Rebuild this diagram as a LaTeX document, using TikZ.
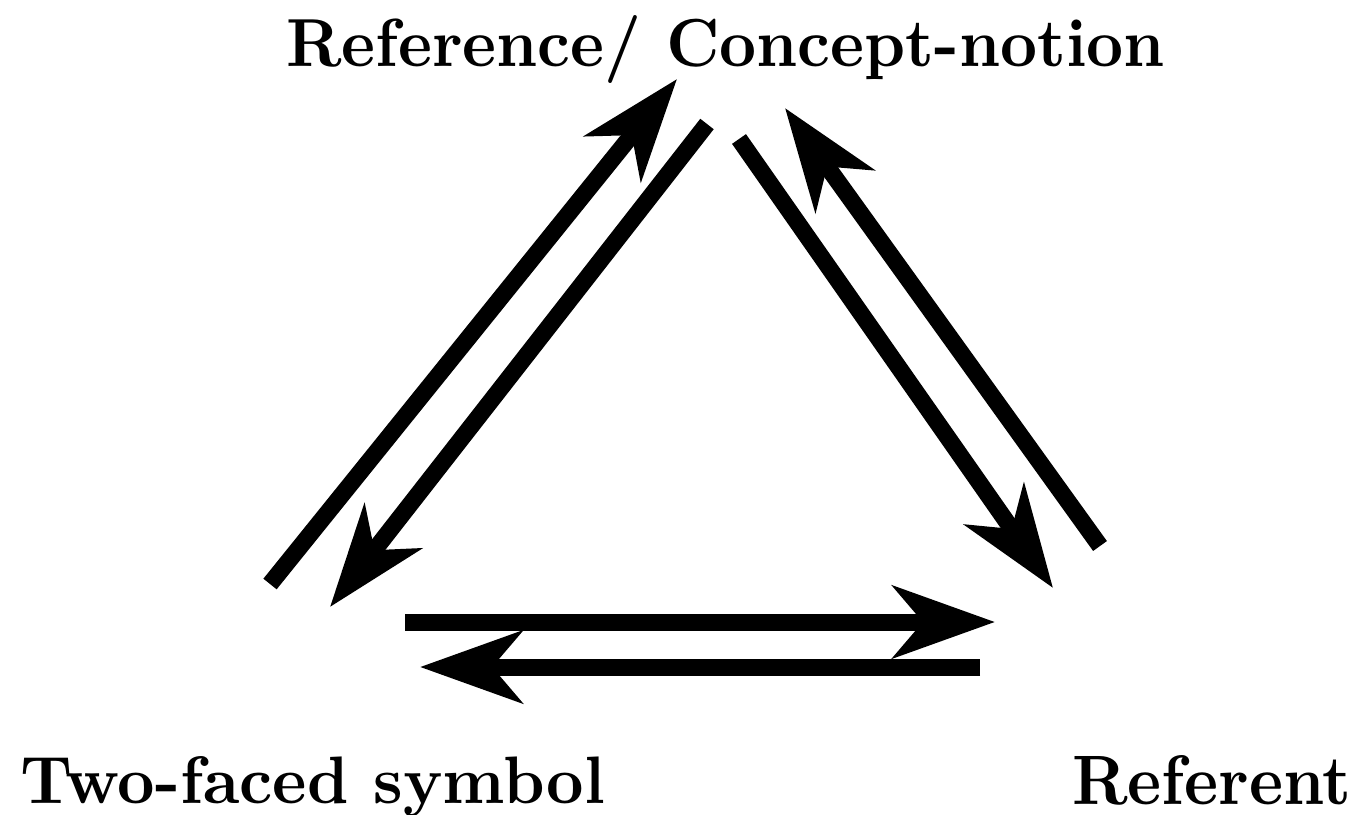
\documentclass[tikz,border=0pt]{standalone}
\usetikzlibrary{arrows.meta}
\tikzset{
  link/.style={line width=17pt,
    -{Stealth[length=102pt,width=72pt,inset=30pt]}},
  term/.style={inner sep=0pt, outer sep=0pt}
}
% bold term scaled to a given width and height
\newcommand\termtext[3]{\resizebox{#1}{#2}{\bfseries #3}}
\begin{document}
\begin{tikzpicture}[x=1pt,y=-1pt]
  \useasboundingbox (0,0) rectangle (1364,814);

  % the three corners of the triangle
  \node[term, anchor=base west] (ref) at (286,66)
    {\termtext{879pt}{51pt}{Reference/ Concept-notion}};
  \node[term, anchor=base west] (sym) at (20,803)
    {\termtext{585pt}{47pt}{Two-faced symbol}};
  \node[term, anchor=base west] (rft) at (1072,804)
    {\termtext{279pt}{49pt}{Referent}};

  % arrow end points
  \coordinate (symUpTail)   at (270,584);
  \coordinate (symUpTip)    at (677,79);
  \coordinate (refDownTail) at (707,124);
  \coordinate (refDownTip)  at (330,607);
  \coordinate (refRtTail)   at (739,139);
  \coordinate (refRtTip)    at (1053,588);
  \coordinate (rftUpTail)   at (1100,546);
  \coordinate (rftUpTip)    at (785,108);
  \coordinate (symRtTail)   at (405,622);
  \coordinate (symRtTip)    at (995,622);
  \coordinate (rftLtTail)   at (980,667);
  \coordinate (rftLtTip)    at (420,667);

  % symbol <-> reference
  \draw[link] (symUpTail) -- (symUpTip);
  \draw[link] (refDownTail) -- (refDownTip);
  % reference <-> referent
  \draw[link] (refRtTail) -- (refRtTip);
  \draw[link] (rftUpTail) -- (rftUpTip);
  % symbol <-> referent
  \draw[link] (symRtTail) -- (symRtTip);
  \draw[link] (rftLtTail) -- (rftLtTip);
\end{tikzpicture}
\end{document}
